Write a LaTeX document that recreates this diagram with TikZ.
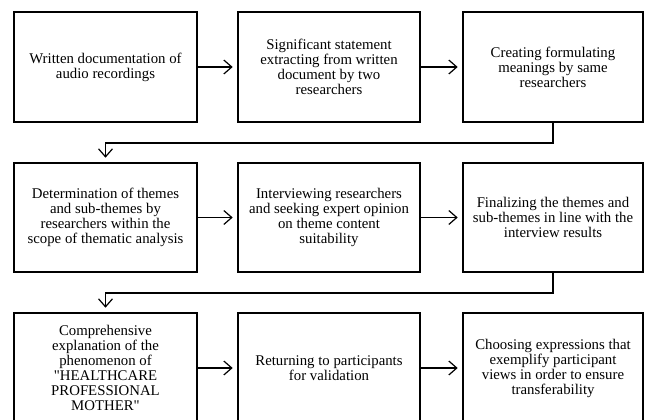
\documentclass[tikz,border=0pt]{standalone}
\usepackage{fontspec}
\setmainfont{Liberation Serif}
\usetikzlibrary{arrows.meta}
\newcommand{\sq}{{\XeTeXglyph\XeTeXglyphindex "quotedbl"\relax}}
\begin{document}
\begin{tikzpicture}[x=1pt,y=1pt,
  stepbox/.style={draw=black, line width=2.6pt, fill=white, align=center,
    font=\fontsize{14.8}{15}\selectfont, inner sep=0pt},
  arr/.style={draw=black, line width=1.2pt, -{Straight Barb[length=8pt,width=14pt,line width=1.2pt]}, shorten >=4pt},
]
\useasboundingbox (0,0) rectangle (645,420);
\clip (0,0) rectangle (645,420);
\fill[white] (0,0) rectangle (645,420);
% row 1
\node[stepbox, minimum width=183pt, minimum height=110pt] (b1) at (105.5,353) {Written documentation of\\audio recordings};
\node[stepbox, minimum width=182pt, minimum height=110pt] (b2) at (329,353) {Significant statement\\extracting from written\\document by two\\researchers};
\node[stepbox, minimum width=180pt, minimum height=110pt] (b3) at (553,353) {Creating formulating\\meanings by same\\researchers};
% row 2
\node[stepbox, minimum width=183pt, minimum height=109pt] (b4) at (105.5,202.5) {Determination of themes\\and sub-themes by\\researchers within the\\scope of thematic analysis};
\node[stepbox, minimum width=182pt, minimum height=109pt] (b5) at (329,202.5) {Interviewing researchers\\and seeking expert opinion\\on theme content\\suitability};
\node[stepbox, minimum width=180pt, minimum height=109pt] (b6) at (553,202.5) {Finalizing the themes and\\sub-themes in line with the\\interview results};
% row 3
\node[stepbox, minimum width=183pt, minimum height=110pt] (b7) at (105.5,52) {Comprehensive\\explanation of the\\phenomenon of\\\sq HEALTHCARE\\PROFESSIONAL\\MOTHER\sq};
\node[stepbox, minimum width=182pt, minimum height=110pt] (b8) at (329,52) {Returning to participants\\for validation};
\node[stepbox, minimum width=180pt, minimum height=110pt] (b9) at (553,52) {Choosing expressions that\\exemplify participant\\views in order to ensure\\transferability};
% horizontal arrows
\draw[arr] (b1.east) -- (b2.west);
\draw[arr] (b2.east) -- (b3.west);
\draw[arr] (b4.east) -- (b5.west);
\draw[arr] (b5.east) -- (b6.west);
\draw[arr] (b7.east) -- (b8.west);
\draw[arr] (b8.east) -- (b9.west);
% row transitions
\coordinate (t1) at (0,277);
\coordinate (t2) at (0,127);
\draw[arr] (b3.south) -- (b3.south |- t1) -| (b4.north);
\draw[arr] (b6.south) -- (b6.south |- t2) -| (b7.north);
\end{tikzpicture}
\end{document}
